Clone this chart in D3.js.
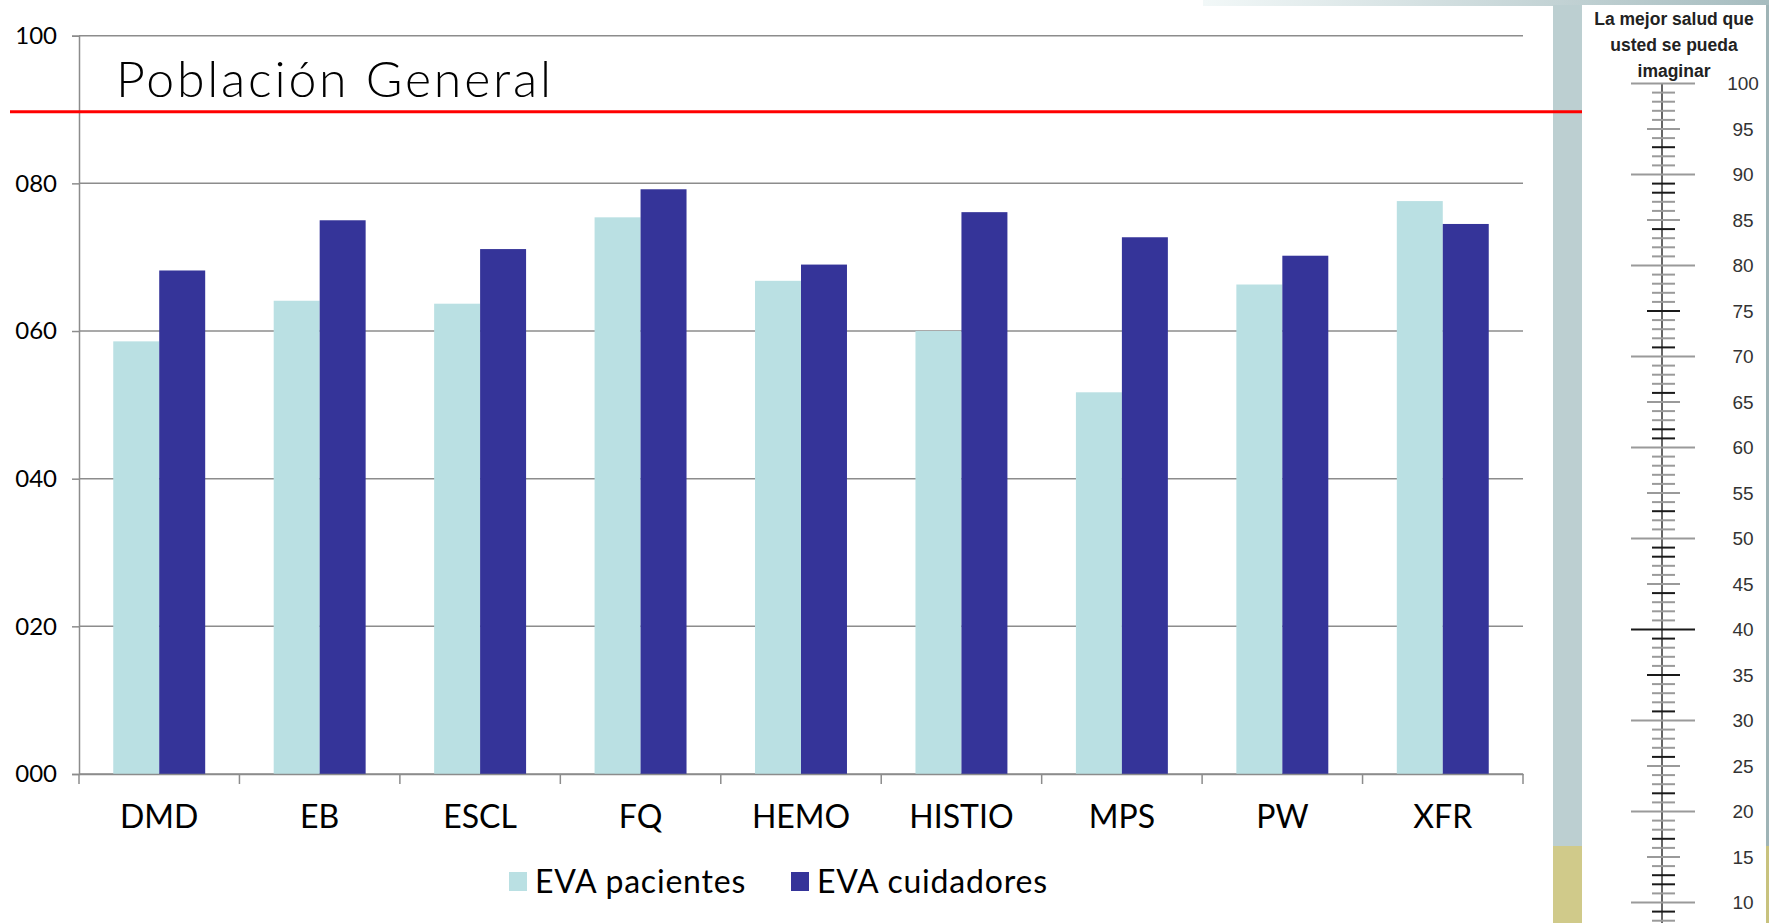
<!DOCTYPE html>
<html>
<head>
<meta charset="utf-8">
<script src="https://cdn.jsdelivr.net/npm/d3@7"></script>
<style>
  body { margin: 0; background: #fff; }
  svg { display: block; }
</style>
</head>
<body>
<svg width="1769" height="923"></svg>
<script>
// datos del grafico
var categories = ["DMD", "EB", "ESCL", "FQ", "HEMO", "HISTIO", "MPS", "PW", "XFR"];
var series = ["EVA pacientes", "EVA cuidadores"];
var pacientes = [58.6, 64.1, 63.7, 75.4, 66.8, 60.0, 51.7, 66.3, 77.6];
var cuidadores = [68.2, 75.0, 71.1, 79.2, 69.0, 76.1, 72.7, 70.2, 74.5];
var yTicks = [0, 20, 40, 60, 80, 100];
var popGeneral = 89.7;

// escala EVA (termometro) de la derecha
var scaleLabels = [100, 95, 90, 85, 80, 75, 70, 65, 60, 55, 50, 45, 40, 35, 30, 25, 20, 15, 10];
var darkTicks = [93, 89, 88, 84, 75, 71, 66, 62, 61, 53, 49, 48, 44, 40, 39, 35, 31, 26, 22, 17, 13, 12, 9];

var svg = d3.select("svg");
var colors = { "EVA pacientes": "#bae0e3", "EVA cuidadores": "#353499" };

// fondo de la diapositiva (franjas)
var defs = svg.append("defs");
var grad = defs.append("linearGradient").attr("id", "topstrip");
grad.append("stop").attr("offset", "0%").attr("stop-color", "#f2f8f8");
grad.append("stop").attr("offset", "100%").attr("stop-color", "#a6bcbf");
svg.append("rect").attr("x", 1203).attr("y", 0).attr("width", 566).attr("height", 6).attr("fill", "url(#topstrip)");
svg.append("rect").attr("x", 1553).attr("y", 5).attr("width", 29).attr("height", 841).attr("fill", "#bccfd1");
svg.append("rect").attr("x", 1553).attr("y", 846).attr("width", 29).attr("height", 77).attr("fill", "#d0ca8a");
svg.append("rect").attr("x", 1766).attr("y", 5).attr("width", 3).attr("height", 841).attr("fill", "#9fb4b6");
svg.append("rect").attr("x", 1766).attr("y", 846).attr("width", 3).attr("height", 77).attr("fill", "#c8c27e");

// escalas
var y = d3.scaleLinear().domain([0, 100]).range([774, 35.7]);
var x = d3.scaleBand().domain(categories).range([79, 1523]).paddingInner(0).paddingOuter(0);
var xSub = d3.scaleBand().domain(series).range([0, x.bandwidth()]).paddingInner(0).paddingOuter(0.745);

var chart = svg.append("g");

// lineas de cuadricula
chart.append("g").selectAll("line")
  .data(yTicks)
  .enter()
  .append("line")
  .attr("x1", 79).attr("x2", 1523)
  .attr("y1", function(d) { return y(d); })
  .attr("y2", function(d) { return y(d); })
  .attr("stroke", "#8c8c8c")
  .attr("stroke-width", 1.5);

// barras
var rows = categories.map(function(c, i) {
  return { cat: c, values: [{ s: series[0], v: pacientes[i] }, { s: series[1], v: cuidadores[i] }] };
});

chart.append("g").selectAll("g")
  .data(rows)
  .enter()
  .append("g")
  .attr("transform", function(d) { return "translate(" + x(d.cat) + ",0)"; })
  .selectAll("rect")
  .data(function(d) { return d.values; })
  .enter()
  .append("rect")
  .attr("x", function(d) { return xSub(d.s); })
  .attr("width", xSub.bandwidth())
  .attr("y", function(d) { return y(d.v); })
  .attr("height", function(d) { return y(0) - y(d.v); })
  .attr("fill", function(d) { return colors[d.s]; });

// eje Y
var yAxis = chart.append("g")
  .attr("transform", "translate(79,0)")
  .call(d3.axisLeft(y).tickValues(yTicks).tickSize(7).tickPadding(15).tickFormat(d3.format("03d")));
yAxis.select(".domain").attr("stroke", "#8c8c8c").attr("stroke-width", 1.5);
yAxis.selectAll(".tick line").attr("stroke", "#8c8c8c").attr("stroke-width", 1.5);
yAxis.selectAll(".tick text")
  .attr("font-family", "Lato, sans-serif")
  .attr("font-size", 24)
  .attr("fill", "#000");

// eje X
var xAxis = chart.append("g")
  .attr("transform", "translate(0,774)")
  .call(d3.axisBottom(x).tickSize(0).tickPadding(0));
xAxis.select(".domain").attr("stroke", "#8c8c8c").attr("stroke-width", 1.5);
xAxis.selectAll(".tick text")
  .attr("font-family", "Lato, sans-serif")
  .attr("font-size", 32)
  .attr("fill", "#000")
  .attr("dy", null)
  .attr("y", 54);

// marcas entre categorias
var edges = categories.map(function(c) { return x(c); }).concat([x.range()[1]]);
xAxis.append("g").selectAll("line")
  .data(edges)
  .enter()
  .append("line")
  .attr("x1", function(d) { return d; })
  .attr("x2", function(d) { return d; })
  .attr("y1", 0).attr("y2", 10)
  .attr("stroke", "#8c8c8c")
  .attr("stroke-width", 1.5);

// titulo
svg.append("text")
  .attr("x", 116).attr("y", 97)
  .attr("font-family", "Lato, sans-serif")
  .attr("font-weight", 300)
  .attr("font-size", 50)
  .attr("letter-spacing", 2.8)
  .attr("fill", "#000")
  .text("Población General");

// linea poblacion general
svg.append("line")
  .attr("x1", 10).attr("x2", 1582)
  .attr("y1", y(popGeneral)).attr("y2", y(popGeneral))
  .attr("stroke", "#ff0000")
  .attr("stroke-width", 3);

// leyenda
var legendPos = [509, 791];
var legend = svg.append("g").selectAll("g")
  .data(series)
  .enter()
  .append("g")
  .attr("transform", function(d, i) { return "translate(" + legendPos[i] + ",872)"; });
legend.append("rect")
  .attr("width", 18).attr("height", 19)
  .attr("fill", function(d) { return colors[d]; });
legend.append("text")
  .attr("x", 26).attr("y", 21)
  .attr("font-family", "Lato, sans-serif")
  .attr("font-size", 32)
  .attr("letter-spacing", 0.8)
  .attr("fill", "#000")
  .text(function(d) { return d; });

// panel con la escala EVA
var yr = d3.scaleLinear().domain([0, 100]).range([993.5, 83.5]);
var ruler = svg.append("g");
ruler.append("rect").attr("x", 1582).attr("y", 5).attr("width", 184).attr("height", 918).attr("fill", "#fff");

var titleLines = ["La mejor salud que", "usted se pueda", "imaginar"];
ruler.selectAll(".rt")
  .data(titleLines)
  .enter()
  .append("text")
  .attr("class", "rt")
  .attr("x", 1674)
  .attr("y", function(d, i) { return 25 + i * 26; })
  .attr("text-anchor", "middle")
  .attr("font-family", "'Liberation Sans', Arial, sans-serif")
  .attr("font-weight", "bold")
  .attr("font-size", 17.5)
  .attr("fill", "#222")
  .text(function(d) { return d; });

ruler.append("line")
  .attr("x1", 1662).attr("x2", 1662)
  .attr("y1", yr(100)).attr("y2", 923)
  .attr("stroke", "#666")
  .attr("stroke-width", 2);

var tickVals = d3.range(7, 101);
ruler.append("g").selectAll("line")
  .data(tickVals)
  .enter()
  .append("line")
  .attr("x1", function(d) { return d % 10 === 0 ? 1631 : (d % 5 === 0 ? 1647 : 1652); })
  .attr("x2", function(d) { return d % 10 === 0 ? 1695 : (d % 5 === 0 ? 1680 : 1675); })
  .attr("y1", function(d) { return yr(d); })
  .attr("y2", function(d) { return yr(d); })
  .attr("stroke", function(d) { return darkTicks.indexOf(d) >= 0 ? "#1a1a1a" : "#9a9a9a"; })
  .attr("stroke-width", 2);

ruler.append("g").selectAll("text")
  .data(scaleLabels)
  .enter()
  .append("text")
  .attr("x", 1743)
  .attr("y", function(d) { return yr(d); })
  .attr("dy", "0.35em")
  .attr("text-anchor", "middle")
  .attr("font-family", "'Liberation Sans', Arial, sans-serif")
  .attr("font-size", 19)
  .attr("fill", "#333")
  .text(function(d) { return d; });
</script>
</body>
</html>
